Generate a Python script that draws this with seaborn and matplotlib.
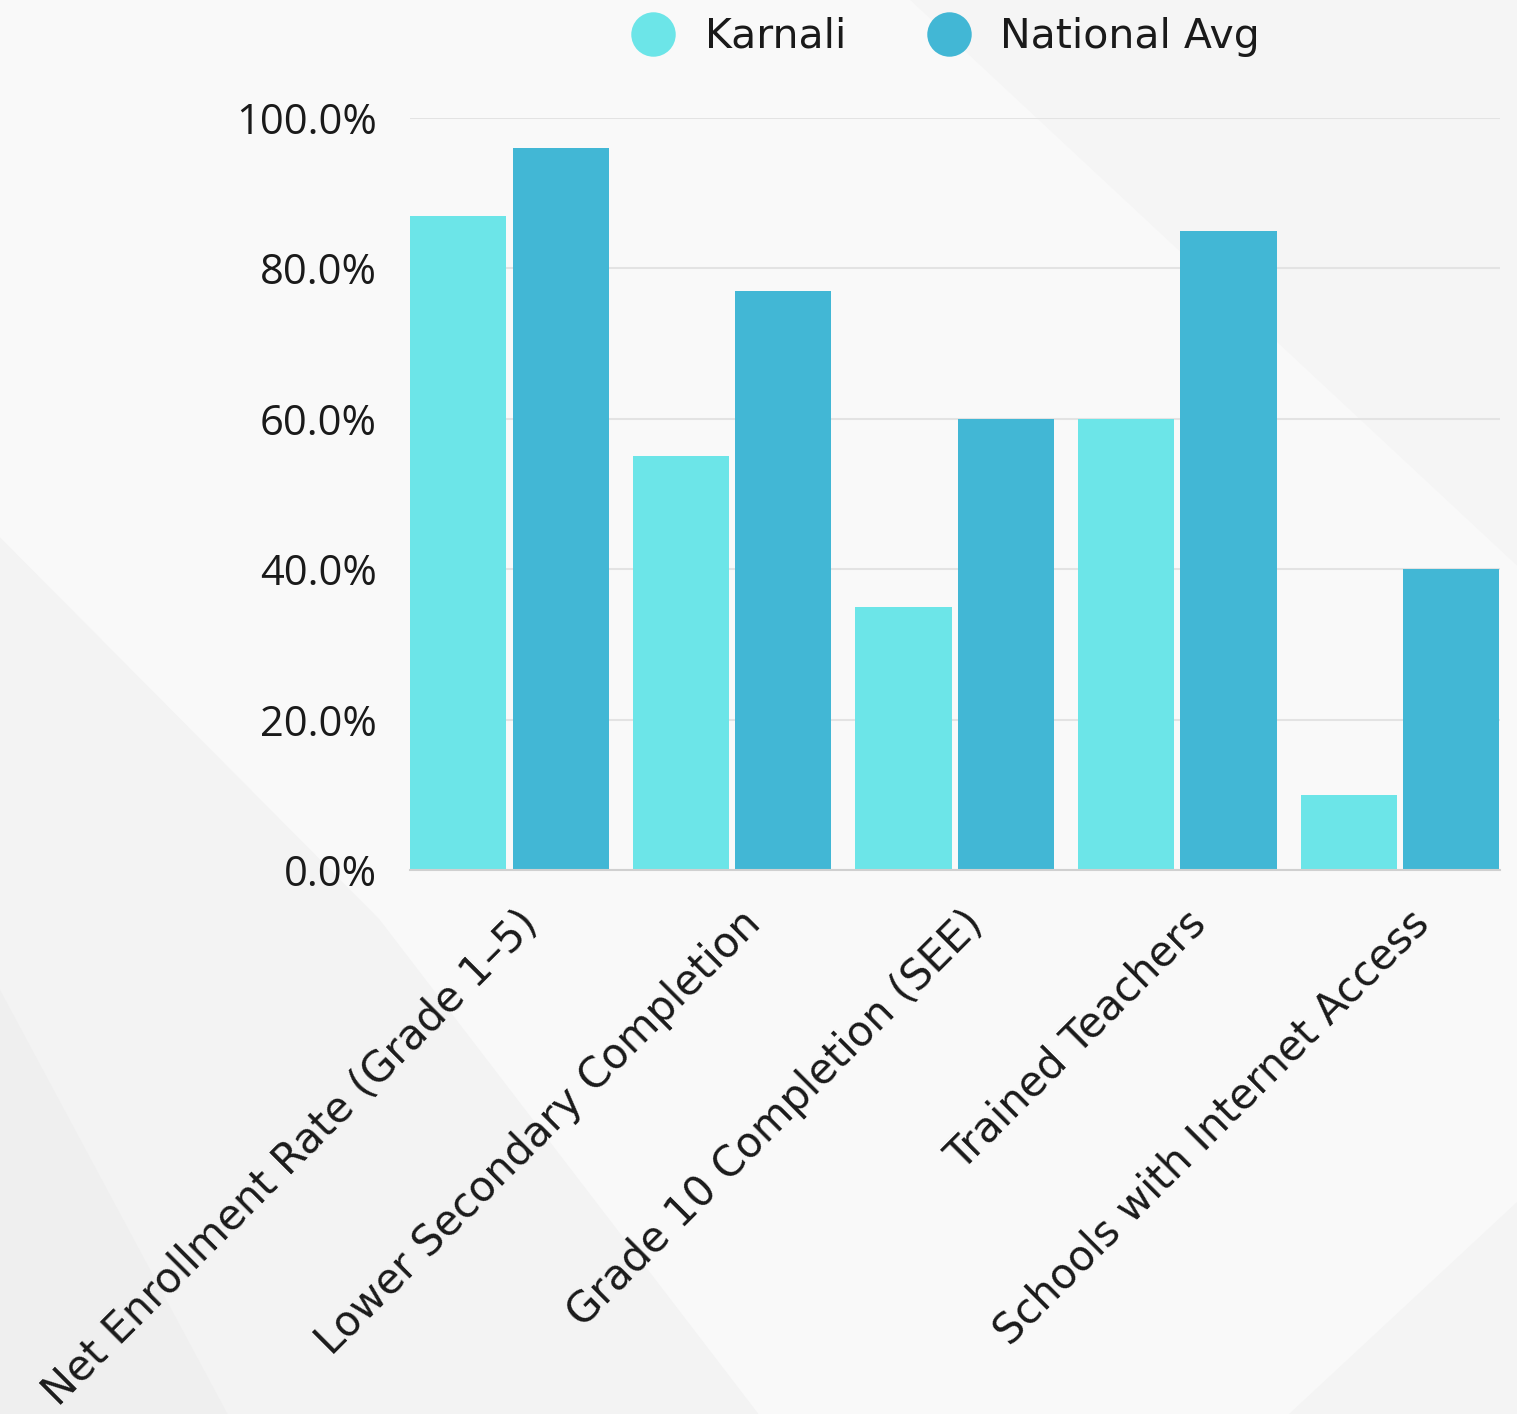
import matplotlib
matplotlib.use("Agg")
import matplotlib.pyplot as plt
import matplotlib.transforms as mtrans
from matplotlib.patches import Polygon
from matplotlib.lines import Line2D
import seaborn as sns
import pandas as pd

categories = ["Net Enrollment Rate (Grade 1–5)", "Lower Secondary Completion",
              "Grade 10 Completion (SEE)", "Trained Teachers", "Schools with Internet Access"]
karnali = [87, 55, 35, 60, 10]
national = [96, 77, 60, 85, 40]
series = ["Karnali", "National Avg"]
colors = ["#6ce5e8", "#42b7d5"]
yticks = [0, 20, 40, 60, 80, 100]

df = pd.DataFrame({
    "category": categories * 2,
    "value": karnali + national,
    "series": [series[0]] * len(categories) + [series[1]] * len(categories),
})

sns.set_theme(style="white")
plt.rcParams["font.family"] = ["DejaVu Sans"]

W, H, DPI = 1517, 1414, 100
fig = plt.figure(figsize=(W / DPI, H / DPI), dpi=DPI)
fig.patch.set_facecolor("#f9f9f9")

# subtle diagonal background shading
bg = fig.add_axes([0, 0, 1, 1], zorder=-10)
bg.set_xlim(0, 1); bg.set_ylim(0, 1); bg.axis("off")
for pts, c in [
    ([(0, 0.62), (0.25, 0.35), (0.5, 0.0), (0.0, 0.0)], "#f3f3f3"),
    ([(0, 0.30), (0.15, 0.0), (0.0, 0.0)], "#efefef"),
    ([(0.6, 1.0), (1.0, 0.6), (1.0, 1.0)], "#f5f5f5"),
    ([(0.85, 0.0), (1.0, 0.0), (1.0, 0.15)], "#f4f4f4"),
]:
    bg.add_patch(Polygon(pts, closed=True, facecolor=c, edgecolor="none"))

ax = fig.add_axes([410 / W, 1 - 870 / H, (1500 - 410) / W, (870 - 118) / H])
ax.set_facecolor("none")

sns.barplot(data=df, x="category", y="value", hue="series", palette=colors,
            width=0.92, gap=0.06, ax=ax, saturation=1, legend=False,
            edgecolor="none", zorder=3)

ax.set_xlim(-0.447, 4.449)
ax.set_ylim(0, 100)
ax.set_yticks(yticks)
ax.set_yticklabels([f"{v:.1f}%" for v in yticks], family=["Open Sans", "DejaVu Sans"])
ax.set_xlabel("")
ax.set_ylabel("")
ax.grid(axis="y", color="#e3e3e3", linewidth=1.5, zorder=0)
ax.grid(axis="x", visible=False)
for s in ["top", "right", "left"]:
    ax.spines[s].set_visible(False)
ax.spines["bottom"].set_color("#d0d0d0")
ax.spines["bottom"].set_linewidth(1.5)
ax.spines["bottom"].set_zorder(4)

ax.tick_params(axis="y", length=0, pad=24, labelsize=30, labelcolor="#1a1a1a")
ax.tick_params(axis="x", length=0, pad=34, labelsize=30, labelcolor="#1a1a1a")
offset = mtrans.ScaledTranslation(22 / DPI, 0, fig.dpi_scale_trans)
for lbl in ax.get_xticklabels():
    lbl.set_rotation(45)
    lbl.set_ha("right")
    lbl.set_va("center")
    lbl.set_rotation_mode("anchor")
    lbl.set_transform(lbl.get_transform() + offset)

handles = [Line2D([], [], marker="o", linestyle="none", markersize=32,
                  markerfacecolor=c, markeredgecolor="none") for c in colors]
fig.legend(handles, series, loc="center", bbox_to_anchor=(936 / W, 1 - 37 / H),
           ncol=2, frameon=False, fontsize=29.5, handletextpad=0.25,
           columnspacing=1.5, labelcolor="#1a1a1a")

fig.savefig("out.png", dpi=DPI, facecolor=fig.get_facecolor())
